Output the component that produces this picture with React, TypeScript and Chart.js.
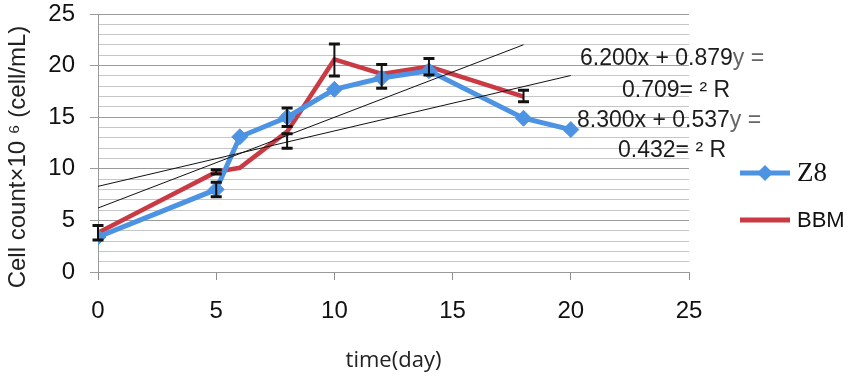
import React, { useEffect, useRef } from 'react';
import { Chart, registerables } from 'chart.js';

Chart.register(...registerables);

// ---- data ----
const z8Days = [0, 5, 6, 8, 10, 12, 14, 18, 20];
const z8Values = [3.4, 8.0, 13.1, 15.0, 17.7, 18.8, 19.5, 14.9, 13.8];
const bbmDays = [0, 5, 6, 8, 10, 12, 14, 18];
const bbmValues = [3.8, 9.7, 10.1, 13.6, 20.6, 19.2, 19.9, 17.0];
const errDays = [0, 5, 5, 8, 8, 10, 12, 14, 18];
const errLow = [3.1, 7.3, 9.5, 14.1, 12.0, 19.0, 17.8, 19.1, 16.5];
const errHigh = [4.5, 8.7, 9.9, 15.9, 13.4, 22.1, 20.1, 20.7, 17.6];
const trend1Days = [0, 18];
const trend1Values = [6.2, 22.02];
const trend2Days = [0, 20];
const trend2Values = [8.3, 19.04];
const equationLines = ['6.200x + 0.879y =', '0.709= ² R', '8.300x + 0.537y =', '0.432= ² R'];
const seriesLabels = ['Z8', 'BBM'];
const xTitle = 'time(day)';
const yTitle = 'Cell count×10 ⁶ (cell/mL)';
const xMin = 0;
const xMax = 25;
const xStep = 5;
const yMin = 0;
const yMax = 25;
const yMajorStep = 5;

const BLUE = '#4d93e3';
const RED = '#c93a44';

const toXY = (xs: number[], ys: number[]) => xs.map((x, i) => ({ x, y: ys[i] }));

const overlayPlugin = {
  id: 'overlay',
  afterDatasetsDraw(chart: any) {
    const { ctx, scales } = chart;
    const xs = scales.x;
    const ys = scales.y;
    // error bars
    ctx.save();
    ctx.strokeStyle = '#111';
    ctx.lineCap = 'butt';
    errDays.forEach((d, i) => {
      const px = xs.getPixelForValue(d);
      const pLo = ys.getPixelForValue(errLow[i]);
      const pHi = ys.getPixelForValue(errHigh[i]);
      ctx.lineWidth = 2;
      ctx.beginPath();
      ctx.moveTo(px, pLo);
      ctx.lineTo(px, pHi);
      ctx.stroke();
      ctx.lineWidth = 3;
      ctx.beginPath();
      ctx.moveTo(px - 5.5, pLo);
      ctx.lineTo(px + 5.5, pLo);
      ctx.moveTo(px - 5.5, pHi);
      ctx.lineTo(px + 5.5, pHi);
      ctx.stroke();
    });
    ctx.restore();
  },
  afterDraw(chart: any) {
    const { ctx } = chart;
    ctx.save();
    // equations
    const lefts = [580, 622, 577, 618];
    const bases = [65, 97, 127, 157];
    ctx.font = '23px "Liberation Sans", Arial, sans-serif';
    ctx.textBaseline = 'alphabetic';
    ctx.textAlign = 'left';
    equationLines.forEach((line, i) => {
      const m = line.match(/^(.*?)(y\s*=)?$/);
      const main = m ? m[1] : line;
      const tail = m && m[2] ? m[2] : '';
      ctx.fillStyle = '#1c1c1c';
      ctx.fillText(main, lefts[i], bases[i]);
      if (tail) {
        const w = ctx.measureText(main).width;
        ctx.fillStyle = '#666';
        ctx.fillText(tail, lefts[i] + w, bases[i]);
      }
    });
    // y title
    ctx.save();
    ctx.translate(18, 157);
    ctx.rotate(-Math.PI / 2);
    ctx.font = '24px "Liberation Sans", Arial, sans-serif';
    ctx.fillStyle = '#222';
    ctx.textAlign = 'center';
    ctx.textBaseline = 'middle';
    ctx.fillText(yTitle, 0, 0);
    ctx.restore();
    // legend
    const items = chart.data.datasets.filter((d: any) => seriesLabels.includes(d.label));
    const rows = [173, 220];
    items.forEach((ds: any, i: number) => {
      const y = rows[i];
      ctx.strokeStyle = ds.borderColor;
      ctx.lineWidth = 5;
      ctx.beginPath();
      ctx.moveTo(740, y);
      ctx.lineTo(790, y);
      ctx.stroke();
      if (ds.pointRadius > 0) {
        ctx.fillStyle = ds.borderColor;
        ctx.beginPath();
        ctx.moveTo(765 - 8, y);
        ctx.lineTo(765, y - 8);
        ctx.lineTo(765 + 8, y);
        ctx.lineTo(765, y + 8);
        ctx.closePath();
        ctx.fill();
      }
      ctx.fillStyle = '#111';
      ctx.textAlign = 'left';
      ctx.textBaseline = 'middle';
      ctx.font = i === 0 ? '27px "Liberation Serif", "Times New Roman", serif' : '22px "Liberation Sans", Arial, sans-serif';
      ctx.fillText(ds.label, 797, y + 1);
    });
    ctx.restore();
  },
};

export default function App() {
  const ref = useRef<HTMLCanvasElement | null>(null);
  useEffect(() => {
    if (!ref.current) return;
    const chart = new Chart(ref.current, {
      type: 'line',
      data: {
        datasets: [
          {
            label: 'trend1',
            data: toXY(trend1Days, trend1Values),
            borderColor: '#111',
            borderWidth: 1,
            pointRadius: 0,
            fill: false,
          },
          {
            label: 'trend2',
            data: toXY(trend2Days, trend2Values),
            borderColor: '#111',
            borderWidth: 1,
            pointRadius: 0,
            fill: false,
          },
          {
            label: seriesLabels[0],
            data: toXY(z8Days, z8Values),
            borderColor: BLUE,
            backgroundColor: BLUE,
            borderWidth: 5,
            pointStyle: 'rectRot',
            pointRadius: 8,
            pointBorderWidth: 1,
            pointBackgroundColor: BLUE,
            pointBorderColor: BLUE,
            tension: 0,
            fill: false,
          },
          {
            label: seriesLabels[1],
            data: toXY(bbmDays, bbmValues),
            borderColor: RED,
            backgroundColor: RED,
            borderWidth: 4.5,
            pointRadius: 0,
            tension: 0,
            fill: false,
          },
        ],
      },
      options: {
        animation: false,
        responsive: true,
        maintainAspectRatio: false,
        layout: { padding: { top: 14, right: 164, left: 0, bottom: 0 } },
        plugins: {
          legend: { display: false },
          tooltip: { enabled: false },
          title: { display: false },
        },
        scales: {
          x: {
            type: 'linear',
            min: xMin,
            max: xMax,
            afterFit: (s: any) => {
              s.height = 107;
            },
            ticks: {
              stepSize: xStep,
              color: '#111',
              padding: 17,
              font: { family: '"Liberation Sans", Arial, sans-serif', size: 24 },
            },
            grid: {
              drawOnChartArea: false,
              drawTicks: true,
              tickLength: 8,
              tickColor: '#8f8f8f',
              color: '#8f8f8f',
            },
            border: { display: true, color: '#9a9a9a' },
            title: {
              display: true,
              text: xTitle,
              color: '#222',
              padding: { top: 0, bottom: 5 },
              font: { family: '"Open Sans", sans-serif', size: 22 },
            },
          },
          y: {
            type: 'linear',
            min: yMin,
            max: yMax,
            afterFit: (s: any) => {
              s.width = 98;
              s.paddingTop = 12;
              s.paddingBottom = 12;
            },
            ticks: {
              stepSize: 1,
              autoSkip: false,
              color: '#111',
              padding: 15,
              font: { family: '"Liberation Sans", Arial, sans-serif', size: 24 },
              callback: (v: any) => (Number(v) % yMajorStep === 0 ? String(v) : ''),
            },
            grid: {
              drawTicks: true,
              tickLength: 8,
              color: (c: any) => (c.tick && c.tick.value % yMajorStep === 0 ? '#9c9c9c' : '#c6c6c6'),
              tickColor: (c: any) => (c.tick && c.tick.value % yMajorStep === 0 ? '#9c9c9c' : 'rgba(0,0,0,0)'),
              lineWidth: 1,
            },
            border: { display: true, color: '#9a9a9a' },
          },
        },
      },
      plugins: [overlayPlugin],
    });
    return () => chart.destroy();
  }, []);
  return (
    <div style={{ position: 'absolute', left: 0, top: 0, width: 853, height: 379, background: '#fff' }}>
      <canvas ref={ref} />
    </div>
  );
}
